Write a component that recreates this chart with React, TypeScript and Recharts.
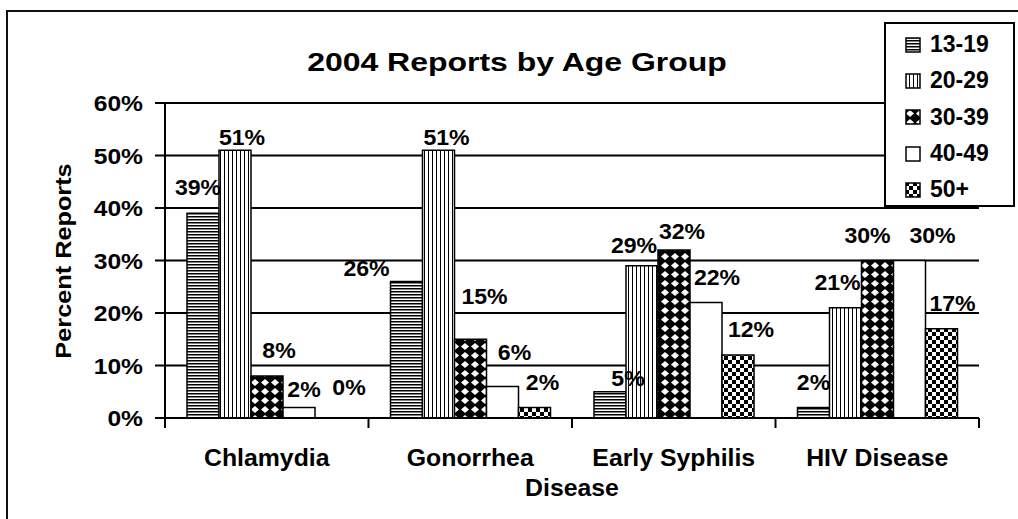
import React from 'react';
import { BarChart, Bar, XAxis, YAxis, CartesianGrid, LabelList, Legend, Rectangle } from 'recharts';

// ---- data ----
const categories = ['Chlamydia', 'Gonorrhea', 'Early Syphilis', 'HIV Disease'];
const seriesNames = ['13-19', '20-29', '30-39', '40-49', '50+'];
const age1319 = [39, 26, 5, 2];
const age2029 = [51, 51, 29, 21];
const age3039 = [8, 15, 32, 30];
const age4049 = [2, 6, 22, 30];
const age50plus = [0, 2, 12, 17];
const yTicks = [0, 10, 20, 30, 40, 50, 60];

// manual nudges of the data labels (as placed in the original), [dx, dy] per series per category
const labelNudge13 = [[-5, 0], [-40, 12], [18, 12], [0, 0]];
const labelNudge20 = [[7, 13], [8, 13], [-8, 5], [-8, 0]];
const labelNudge30 = [[12, 0], [14, -17], [8, 7], [-10, 0]];
const labelNudge40 = [[5, 7], [12, -9], [11, 0], [23, 0]];
const labelNudge50 = [[18, -5], [8, 0], [13, 0], [11, 0]];
const labelNudges = [labelNudge13, labelNudge20, labelNudge30, labelNudge40, labelNudge50];

const seriesKeys = ['a1319', 'a2029', 'a3039', 'a4049', 'a50'];
const seriesValues = [age1319, age2029, age3039, age4049, age50plus];
const seriesFills = ['url(#pat1319)', 'url(#pat2029)', 'url(#pat3039)', '#ffffff', 'url(#pat50)'];

const data = categories.map((name, i) => {
  const row: Record<string, any> = { name };
  seriesKeys.forEach((k, s) => {
    row[k] = seriesValues[s][i];
  });
  return row;
});

// ---- layout ----
const W = 1018;
const H = 519;
const PLOT_LEFT = 165;
const PLOT_RIGHT = 979;
const PLOT_TOP = 103;
const PLOT_BOTTOM = 418;
const BAND = (PLOT_RIGHT - PLOT_LEFT) / categories.length;
const FONT = '"Liberation Sans", Arial, Helvetica, sans-serif';

function SText(props: any) {
  const { x, y, sx = 1, rotate = 0, anchor = 'middle', size = 22, children } = props;
  return (
    <g transform={`translate(${x},${y}) rotate(${rotate}) scale(${sx},1)`}>
      <text x={0} y={0} textAnchor={anchor} fontFamily={FONT} fontWeight={700} fontSize={size} fill="#000">
        {children}
      </text>
    </g>
  );
}

function XTick(props: any) {
  const { x, y, payload, index } = props;
  const half = BAND / 2;
  return (
    <g>
      <line x1={x - half} x2={x - half} y1={y - 10} y2={y} stroke="#000" strokeWidth={2} />
      {index === categories.length - 1 && (
        <line x1={x + half} x2={x + half} y1={y - 10} y2={y} stroke="#000" strokeWidth={2} />
      )}
      <SText x={x} y={y + 38} sx={1.08} size={23}>
        {payload.value}
      </SText>
    </g>
  );
}

function YTick(props: any) {
  const { x, y, payload } = props;
  return (
    <SText x={x} y={y + 8} anchor="end" sx={1.12} size={22}>
      {`${payload.value}%`}
    </SText>
  );
}

function DataLabel(props: any) {
  const vb = props.viewBox || {};
  const x = props.x ?? vb.x;
  const width = props.width ?? vb.width;
  const s = props.series;
  const i = props.index ?? 0;
  const value = seriesValues[s][i];
  const top = PLOT_BOTTOM - ((PLOT_BOTTOM - PLOT_TOP) * value) / 60;
  const yTop = value === 0 ? PLOT_BOTTOM : props.y ?? vb.y ?? top;
  const [dx, dy] = labelNudges[s][i] || [0, 0];
  return (
    <SText x={x + width / 2 + dx} y={yTop - 18 + dy} sx={1.05} size={22}>
      {`${value}%`}
    </SText>
  );
}

function BarShape(props: any) {
  if (props.payload && props.payload[props.dataKey] === 0) return <g />;
  return <Rectangle {...props} />;
}

function LegendBox() {
  return (
    <div
      style={{
        width: 131,
        height: 185,
        border: '2px solid #000',
        boxSizing: 'border-box',
        background: '#fff',
        paddingTop: 2.5,
      }}
    >
      {seriesNames.map((n, i) => (
        <div key={n} style={{ display: 'flex', alignItems: 'center', height: 36.3, marginLeft: 19 }}>
          <svg width={16} height={16} style={{ display: 'block' }}>
            <rect x={1} y={1} width={14} height={14} fill={seriesFills[i]} stroke="#000" strokeWidth={1.5} />
          </svg>
          <span
            style={{
              marginLeft: 9,
              fontFamily: FONT,
              fontWeight: 700,
              fontSize: 23,
              lineHeight: '23px',
              color: '#000',
            }}
          >
            {n}
          </span>
        </div>
      ))}
    </div>
  );
}

export default function App() {
  return (
    <div style={{ position: 'absolute', left: 0, top: 0, width: W, height: H, overflow: 'hidden', background: '#fff' }}>
      <svg width={0} height={0} style={{ position: 'absolute' }}>
        <defs>
          <pattern id="pat1319" patternUnits="userSpaceOnUse" width={6} height={3}>
            <rect width={6} height={3} fill="#fff" />
            <rect y={0} width={6} height={1.5} fill="#000" />
          </pattern>
          <pattern id="pat2029" patternUnits="userSpaceOnUse" width={4} height={4}>
            <rect width={4} height={4} fill="#fff" />
            <rect x={0} width={1} height={4} fill="#000" />
          </pattern>
          <pattern id="pat3039" patternUnits="userSpaceOnUse" width={10} height={9}>
            <rect width={10} height={9} fill="#000" />
            <polygon points="5,1 9,4.5 5,8 1,4.5" fill="#fff" />
          </pattern>
          <pattern id="pat50" patternUnits="userSpaceOnUse" width={8} height={8}>
            <rect width={8} height={8} fill="#fff" />
            <rect width={4} height={4} fill="#000" />
            <rect x={4} y={4} width={4} height={4} fill="#000" />
          </pattern>
        </defs>
      </svg>
      <div
        style={{
          position: 'absolute',
          left: 6,
          top: 10,
          width: 1200,
          height: 700,
          border: '2px solid #111',
          boxSizing: 'border-box',
        }}
      />
      <div style={{ position: 'absolute', left: 0, top: 0 }}>
        <BarChart
          width={W}
          height={H}
          data={data}
          margin={{ top: PLOT_TOP, right: W - PLOT_RIGHT, left: 0, bottom: 0 }}
          barSize={32}
          barGap={0}
        >
          <CartesianGrid vertical={false} stroke="#000" strokeWidth={2} strokeOpacity={1} />
          <XAxis
            dataKey="name"
            height={H - PLOT_BOTTOM}
            axisLine={{ stroke: '#000', strokeWidth: 2 }}
            tickLine={false}
            tickSize={10}
            tickMargin={0}
            tick={<XTick />}
            interval={0}
            label={{
              content: () => (
                <SText x={(PLOT_LEFT + PLOT_RIGHT) / 2} y={496} sx={1.08} size={23}>
                  Disease
                </SText>
              ),
            }}
          />
          <YAxis
            width={PLOT_LEFT}
            domain={[0, 60]}
            ticks={yTicks}
            interval={0}
            axisLine={{ stroke: '#000', strokeWidth: 2 }}
            tickLine={{ stroke: '#000', strokeWidth: 2 }}
            tickSize={10}
            tickMargin={12}
            tick={<YTick />}
            label={{
              content: () => (
                <SText x={71} y={261} rotate={-90} sx={1.15} size={22}>
                  Percent Reports
                </SText>
              ),
            }}
          />
          <Legend
            layout="vertical"
            align="center"
            verticalAlign="middle"
            content={<LegendBox />}
            wrapperStyle={{ left: 884, top: 22, width: 131, height: 185 }}
          />
          {seriesKeys.map((k, s) => (
            <Bar
              key={k}
              dataKey={k}
              name={seriesNames[s]}
              fill={seriesFills[s]}
              stroke="#000"
              strokeWidth={1.5}
              minPointSize={1}
              shape={(p: any) => <BarShape {...p} dataKey={k} />}
              isAnimationActive={false}
            >
              <LabelList dataKey={k} content={(p: any) => <DataLabel {...p} series={s} />} />
            </Bar>
          ))}
        </BarChart>
      </div>
      <svg width={W} height={H} style={{ position: 'absolute', left: 0, top: 0, pointerEvents: 'none' }}>
        <SText x={517} y={71} sx={1.23} size={26}>
          2004 Reports by Age Group
        </SText>
      </svg>
    </div>
  );
}
